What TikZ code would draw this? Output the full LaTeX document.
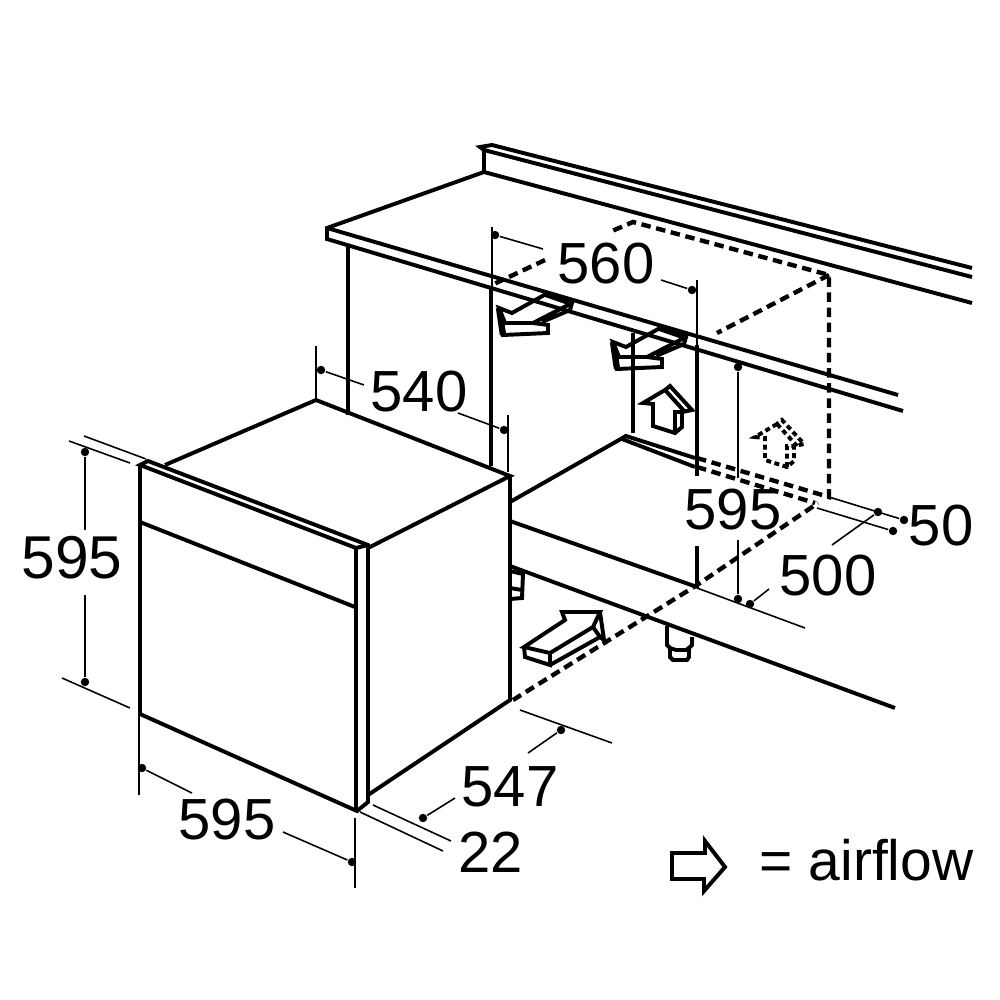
\documentclass[tikz,border=0pt]{standalone}
\usepackage{fontspec}
\setmainfont{Liberation Sans}
\tikzset{
  heavy/.style={line width=1.12pt, line join=miter},
  dimline/.style={line width=0.45pt},
  hidden/.style={line width=1.25pt, dash pattern=on 2.7pt off 1.6pt},
  dimtext/.style={font=\fontsize{16.5}{16.5}\selectfont, inner sep=0pt},
  dimdot/.style={circle, fill=black, inner sep=0pt, minimum size=2.4pt}
}
\newcommand{\airflowdown}{
  \draw (47,-14) -- (13,5) -- (0,0) -- (6,15) -- (34,15) -- (73,-5) -- (71,2) -- (43,14);
  \draw (0,0) -- (4,27) -- (49,25) -- (49,17) -- (34,15);
  \draw[line width=1.8pt] (47,-14) -- (73,-5);
  \draw[line width=1.8pt] (0,0) -- (4,27);
}
\newcommand{\airflowup}{
  (22,4) -- (0,17) -- (10,18) -- (10,40) -- (32,47) -- (39,41) -- (39,26) -- (49,24) -- (27,0) -- cycle
  (32,47) -- (32,26) -- (39,26)
  (22,4) -- (42,26)
}
\begin{document}
\begin{tikzpicture}[x=0.01cm,y=-0.01cm]
  \useasboundingbox (0,0) rectangle (1000,1000);

  % worktop
  \begin{scope}[heavy]
    \draw (972,268) -- (492,145) -- (480,147) -- (484,150) -- (972,277);
    \draw (484,150) -- (484,172);
    \draw (972,303) -- (484,172) -- (327,228) -- (327,239) -- (903,411);
    \draw (327,228) -- (898,395);
    \draw (348,247) -- (348,415);
    \draw (491,287) -- (491,466);
    \draw (633,333) -- (633,433);
    \draw (697,345) -- (697,476);
    \draw (697,546) -- (697,588);
    % cabinet floor
    \draw (510,502) -- (626,436) -- (695,458);
    \draw (626,436) -- (622,439) -- (695,467);
    \draw (510,521) -- (697,587);
    \draw (510,566) -- (895,708);
    % feet
    \draw (510,571) -- (523,574) -- (522,598) -- (510,599) (510,588) -- (522,590);
    \draw (667,626) -- (667,645) -- (670,648) -- (670,657) -- (673,660) -- (687,660) -- (689,657) -- (689,648) -- (692,645) -- (692,637);
    \draw (670,648) -- (676,650) -- (686,650) -- (689,648);
  \end{scope}

  % oven
  \begin{scope}[heavy]
    \draw (165,465) -- (316,400) -- (510,476) -- (368,548);
    \draw (510,476) -- (510,700) -- (368,795);
    \draw (140,465) -- (140,714) -- (357,811) -- (368,802) -- (368,545) -- (148,461) -- (140,465) -- (356,548) -- (356,811);
    \draw (356,548) -- (368,545);
    \draw (140,522) -- (355,607);
  \end{scope}

  % hidden edges
  \draw[hidden] (513,700) -- (697,585) -- (818,503);
  \draw[hidden] (697,458) -- (829,497) -- (829,275) -- (633,222) -- (612,231);
  \draw[hidden] (545,260) -- (494,284);
  \draw[hidden] (829,275) -- (717,333);
  \draw[hidden] (697,467) -- (815,503);

  % airflow
  \begin{scope}[heavy, shift={(499,308)}]
    \airflowdown
  \end{scope}
  \begin{scope}[heavy, shift={(613,342)}]
    \airflowdown
  \end{scope}
  \begin{scope}[heavy, shift={(643,386)}]
    \draw \airflowup;
  \end{scope}
  \begin{scope}[heavy, dash pattern=on 1.4pt off 1pt, shift={(755,420)}]
    \draw \airflowup;
  \end{scope}
  \draw[heavy] (524,647) -- (565,620) -- (562,612) -- (600,612) -- (593,627) -- (550,653) -- cycle;
  \draw[heavy] (524,647) -- (525,657) -- (550,665) -- (550,653);
  \draw[heavy] (550,665) -- (600,637) -- (604,640) -- (600,612);
  \draw[heavy] (593,627) -- (600,637);
  \draw[heavy] (672,853) -- (705,853) -- (705,841) -- (725,867) -- (704,891) -- (704,879) -- (672,879) -- cycle;

  % dimensions
  \node[dimtext] (w560) at (606,264) {560};
  \node[dimtext] (d540) at (419,392) {540};
  \node[dimtext] (h595r) at (733,510) {595};
  \node[dimtext] (d50) at (941,526) {50};
  \node[dimtext] (d500) at (828,576) {500};
  \node[dimtext, font=\fontsize{17.2}{17.2}\selectfont] (h595l) at (72,558) {595};
  \node[dimtext] (w595) at (227,820) {595};
  \node[dimtext] (d547) at (510,787) {547};
  \node[dimtext] (d22) at (491,852) {22};
  \node[dimtext, font=\fontsize{16.2}{16.2}\selectfont, anchor=west] (legend) at (759,860) {= airflow};

  \begin{scope}[dimline]
    \draw (492,227) -- (492,288);
    \draw (697,280) -- (697,345);
    \node[dimdot] (a1) at (495,235) {};
    \draw (a1) -- (543,249);
    \node[dimdot] (a2) at (692,290) {};
    \draw (a2) -- (661,280);
    \draw (316,346) -- (316,400);
    \node[dimdot] (b1) at (321,370) {};
    \draw (b1) -- (364,385);
    \draw (508,415) -- (508,472);
    \node[dimdot] (b2) at (504,430) {};
    \draw (b2) -- (458,413);
    \node[dimdot] (c1) at (738,367) {};
    \draw (c1) -- (738,478);
    \node[dimdot] (c2) at (738,599) {};
    \draw (c2) -- (738,540);
    \draw (697,588) -- (805,628);
    \node[dimdot] (d1) at (750,604) {};
    \draw (d1) -- (769,589);
    \node[dimdot] (e1) at (878,512) {};
    \draw (e1) -- (832,545);
    \node[dimdot] (f1) at (904,520) {};
    \draw (829,497) -- (f1);
    \node[dimdot] (f2) at (893,531) {};
    \draw (817,508) -- (f2);
    \draw (84,436) -- (146,459);
    \draw (69,441) -- (130,463);
    \node[dimdot] (g1) at (85,452) {};
    \draw (g1) -- (85,530);
    \node[dimdot] (g2) at (85,682) {};
    \draw (g2) -- (85,595);
    \draw (62,678) -- (130,708);
    \draw (139,714) -- (139,795);
    \node[dimdot] (h1) at (142,768) {};
    \draw (h1) -- (192,793);
    \node[dimdot] (h2) at (352,862) {};
    \draw (h2) -- (283,832);
    \draw (355,818) -- (355,888);
    \draw (360,812) -- (443,851);
    \draw (373,805) -- (451,841);
    \node[dimdot] (i1) at (423,818) {};
    \draw (i1) -- (455,798);
    \node[dimdot] (i2) at (561,730) {};
    \draw (i2) -- (528,753);
    \draw (520,710) -- (612,743);
  \end{scope}
\end{tikzpicture}
\end{document}
